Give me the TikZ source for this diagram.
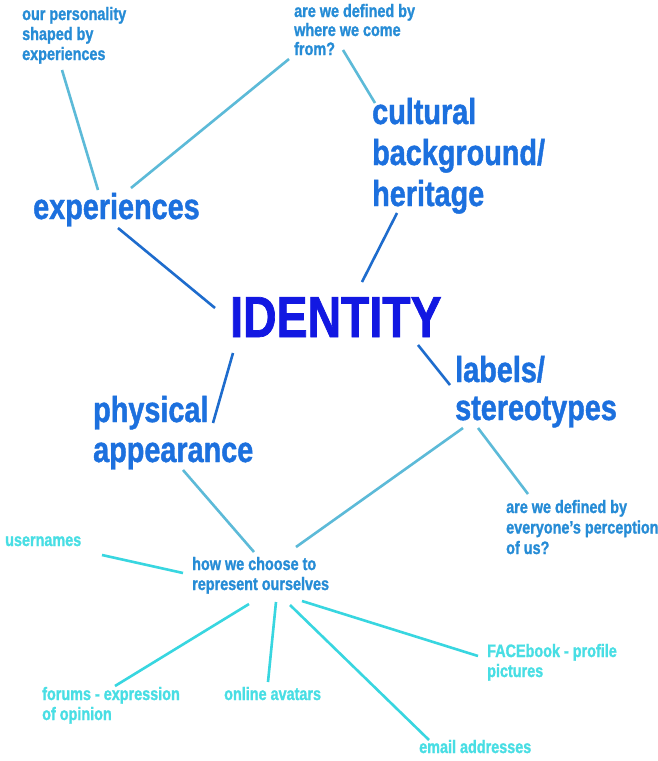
\documentclass[tikz,border=0pt]{standalone}
\usepackage{fontspec}
\setmainfont{Liberation Sans}[FakeStretch=0.8, BoldFeatures={FakeBold=1.2}]
\definecolor{idblue}{RGB}{18,24,226}
\definecolor{mainblue}{RGB}{28,112,222}
\definecolor{subblue}{RGB}{38,140,214}
\definecolor{leafcyan}{RGB}{72,222,228}
\definecolor{mainline}{RGB}{30,108,205}
\definecolor{subline}{RGB}{92,186,216}
\definecolor{leafline}{RGB}{56,214,224}
\tikzset{
	txt/.style={inner sep=0pt, anchor=base west, align=left},
	centre/.style={txt, text=idblue, font=\bfseries\fontsize{58}{60}\selectfont},
	topic/.style={txt, text=mainblue, font=\bfseries\fontsize{36}{41}\selectfont},
	note/.style={txt, text=subblue, font=\bfseries\fontsize{18}{20}\selectfont},
	leaf/.style={txt, text=leafcyan, font=\bfseries\fontsize{18}{20}\selectfont},
	mainlink/.style={mainline, line width=2.6pt},
	sublink/.style={subline, line width=2.6pt},
	leaflink/.style={leafline, line width=2.6pt}
}
\begin{document}
\begin{tikzpicture}[x=1pt, y=-1pt]
	\fill[white] (0,0) rectangle (658,761);
	\useasboundingbox (0,0) rectangle (658,761);

	% nodes sit on the baseline of their last line
	\node[centre] (idn) at (230,337) {IDENTITY};

	\node[topic] (exp) at (33,219) {experiences};
	\node[topic] (cult) at (372,206) {cultural\\background/\\heritage};
	\node[topic, font=\bfseries\fontsize{36}{40}\selectfont] (phys) at (93,462) {physical\\appearance};
	\node[topic, font=\bfseries\fontsize{36}{38}\selectfont] (lab) at (455,420) {labels/\\stereotypes};

	\node[note] (pers) at (22,60) {our personality\\shaped by\\experiences};
	\node[note, font=\bfseries\fontsize{18}{19}\selectfont] (where) at (294,55) {are we defined by\\where we come\\from?};
	\node[note, font=\bfseries\fontsize{18}{20.5}\selectfont] (every) at (506,554) {are we defined by\\everyone’s perception\\of us?};
	\node[note] (how) at (192,590) {how we choose to\\represent ourselves};

	\node[leaf] (user) at (5,546) {usernames};
	\node[leaf] (forum) at (42,720) {forums - expression\\of opinion};
	\node[leaf] (avat) at (224,700) {online avatars};
	\node[leaf] (fb) at (487,677) {FACEbook - profile\\pictures};
	\node[leaf] (email) at (419,753) {email addresses};

	% links to the centre
	\draw[mainlink] ([shift={(85,9)}]exp.base west) -- ([shift={(-15,-29)}]idn.base west);
	\draw[mainlink] ([shift={(25,7)}]cult.base west) -- ([shift={(132,-55)}]idn.base west);
	\draw[mainlink] ([shift={(3,16)}]idn.base west) -- ([shift={(120,-39)}]phys.base west);
	\draw[mainlink] ([shift={(188,8)}]idn.base west) -- ([shift={(-5,-35)}]lab.base west);

	% questions and notes
	\draw[sublink] ([shift={(40,10)}]pers.base west) -- ([shift={(65,-29)}]exp.base west);
	\draw[sublink] ([shift={(-5,4)}]where.base west) -- ([shift={(98,-31)}]exp.base west);
	\draw[sublink] ([shift={(49,-5)}]where.base west) -- ([shift={(3,-103)}]cult.base west);
	\draw[sublink] ([shift={(23,8)}]lab.base west) -- ([shift={(22,-60)}]every.base west);
	\draw[sublink] ([shift={(8,8)}]lab.base west) -- ([shift={(104,-43)}]how.base west);
	\draw[sublink] ([shift={(90,8)}]phys.base west) -- ([shift={(62,-38)}]how.base west);

	% ways we represent ourselves
	\draw[leaflink] ([shift={(97,9)}]user.base west) -- ([shift={(-9,-17)}]how.base west);
	\draw[leaflink] ([shift={(57,14)}]how.base west) -- ([shift={(73,-34)}]forum.base west);
	\draw[leaflink] ([shift={(84,12)}]how.base west) -- ([shift={(44,-18)}]avat.base west);
	\draw[leaflink] ([shift={(98,15)}]how.base west) -- ([shift={(10,-13)}]email.base west);
	\draw[leaflink] ([shift={(110,11)}]how.base west) -- ([shift={(-9,-21)}]fb.base west);
\end{tikzpicture}
\end{document}
